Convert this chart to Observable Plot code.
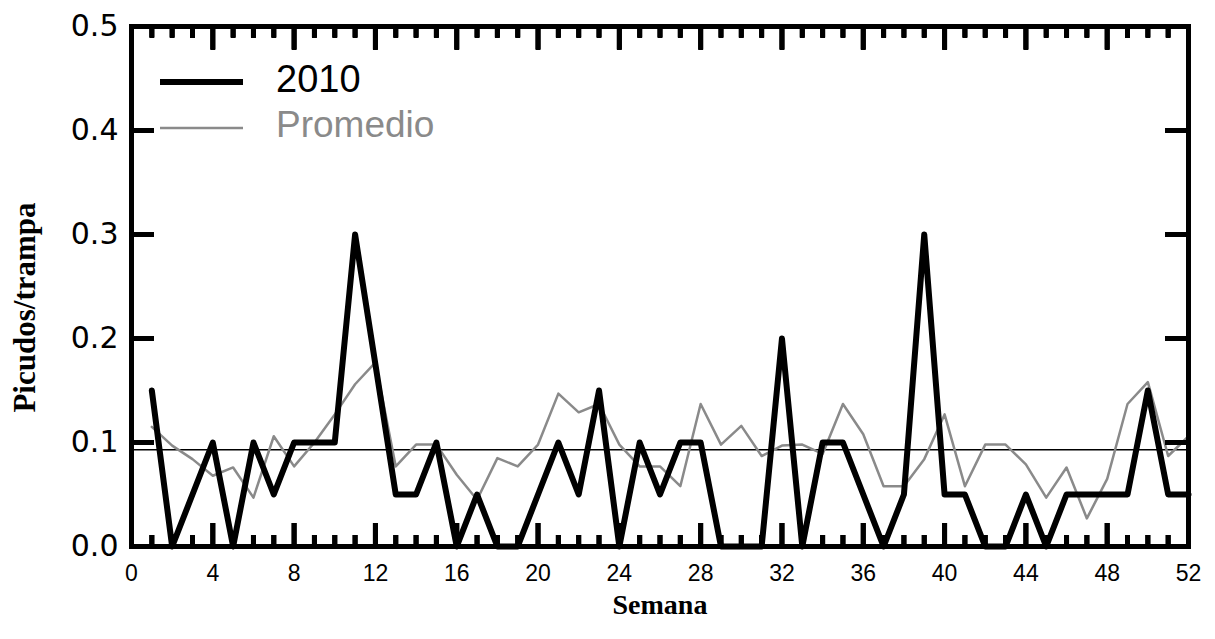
<!DOCTYPE html>
<html><head><meta charset="utf-8">
<script src="https://cdn.jsdelivr.net/npm/d3@7"></script>
<script src="https://cdn.jsdelivr.net/npm/@observablehq/plot@0.6"></script>
<style>
body{margin:0;background:#fff;}
#wrap{position:relative;width:1215px;height:639px;}
#legend{position:absolute;left:0;top:0;pointer-events:none;}
</style></head><body>
<div id="wrap"></div>
<script>
const weeks = [1,2,3,4,5,6,7,8,9,10,11,12,13,14,15,16,17,18,19,20,21,22,23,24,25,26,
  27,28,29,30,31,32,33,34,35,36,37,38,39,40,41,42,43,44,45,46,47,48,49,50,51,52];
const serie2010 = [0.15,0,0.05,0.1,0,0.1,0.05,0.1,0.1,0.1,0.3,0.175,0.05,0.05,0.1,0,0.05,0,0,0.05,
  0.1,0.05,0.15,0,0.1,0.05,0.1,0.1,0,0,0,0.2,0,0.1,0.1,0.05,0,0.05,0.3,0.05,
  0.05,0,0,0.05,0,0.05,0.05,0.05,0.05,0.15,0.05,0.05];
const promedio = [0.115,0.097,0.084,0.068,0.076,0.047,0.106,0.077,0.1,0.127,0.156,0.177,0.077,0.098,0.098,0.069,0.045,0.085,0.077,0.098,
  0.147,0.129,0.137,0.098,0.077,0.077,0.058,0.137,0.098,0.116,0.087,0.097,0.098,0.089,0.137,0.108,0.058,0.058,0.084,0.127,
  0.058,0.098,0.098,0.079,0.047,0.076,0.027,0.065,0.137,0.158,0.087,0.106];
const referencia = 0.093;
const xTicks = [0,4,8,12,16,20,24,28,32,36,40,44,48,52];
const yTicks = [0,0.1,0.2,0.3,0.4,0.5];
const innerYTicks = [0.1,0.2,0.3,0.4];
const majorWeeks = [4,8,12,16,20,24,28,32,36,40,44,48];
const minorWeeks = weeks.filter(w => w < 52 && !majorWeeks.includes(w));
const legendLabels = ["2010","Promedio"];
const legendColors = ["#000000","#8a8a8a"];

const W = 1215, H = 639, mt = 26, mb = 93, ml = 131, mr = 27;
const plotH = H - mt - mb, plotW = W - ml - mr;
const xDom = [0, 52], yDom = [0, 0.5];
// tick lengths in pixels converted to data units
const pxY = px => px * (yDom[1] - yDom[0]) / plotH;
const pxX = px => px * (xDom[1] - xDom[0]) / plotW;

const d2010 = weeks.map((w,i) => ({w, v: serie2010[i]}));
const dProm = weeks.map((w,i) => ({w, v: promedio[i]}));

const sans = "'Liberation Sans', Arial, sans-serif";
const serif = "'Liberation Serif', 'Times New Roman', serif";
const tk = {stroke: "black", strokeWidth: 5, strokeLinecap: "butt"};

// inward x ticks, drawn as axis tick marks with negative size (no labels)
const xTickAxis = (anchor, ticks, size) =>
  Plot.axisX({anchor, ticks, tickSize: -size, strokeWidth: 5, stroke: "black", fill: "none", label: null});

const chart = Plot.plot({
  width: W, height: H, marginTop: mt, marginBottom: mb, marginLeft: ml, marginRight: mr,
  x: {domain: xDom},
  y: {domain: yDom},
  style: {background: "white", fontFamily: sans, color: "black"},
  marks: [
    Plot.ruleY([referencia], {stroke: "black", strokeWidth: 1.5}),
    Plot.line(dProm, {x: "w", y: "v", stroke: "#8a8a8a", strokeWidth: 2.5}),
    Plot.line(d2010, {x: "w", y: "v", stroke: "black", strokeWidth: 6}),
    Plot.ruleX(minorWeeks.slice(), {x: d => d, y1: yDom[0], y2: yDom[0] + pxY(11), ...tk}),
    Plot.ruleX(majorWeeks.slice(), {x: d => d, y1: yDom[0], y2: yDom[0] + pxY(23), ...tk}),
    Plot.ruleX(minorWeeks.slice(), {x: d => d, y1: yDom[1] - pxY(11), y2: yDom[1], ...tk}),
    Plot.ruleX(majorWeeks.slice(), {x: d => d, y1: yDom[1] - pxY(23), y2: yDom[1], ...tk}),
    xTickAxis("bottom", minorWeeks, 11),
    xTickAxis("bottom", majorWeeks, 23),
    xTickAxis("top", minorWeeks, 11),
    xTickAxis("top", majorWeeks, 23),
    Plot.ruleY(innerYTicks, {y: d => d, x1: xDom[0], x2: xDom[0] + pxX(23), ...tk}),
    Plot.ruleY(innerYTicks, {y: d => d, x1: xDom[1] - pxX(23), x2: xDom[1], ...tk}),
    Plot.frame({stroke: "black", strokeWidth: 5}),
    Plot.axisX({ticks: xTicks, tickSize: 0, tickPadding: 18, fontSize: 23, fontFamily: sans, label: null}),
    Plot.axisY({ticks: yTicks, tickSize: 0, tickPadding: 13, tickFormat: d3.format(".1f"), fontSize: 30, fontFamily: "'DejaVu Sans', sans-serif", label: null}),
    Plot.text(["Semana"], {text: d => d, frameAnchor: "bottom", dy: 59, lineAnchor: "middle", textAnchor: "middle", fontSize: 28, fontWeight: "bold", fontFamily: serif}),
    Plot.text(["Picudos/trampa"], {text: d => d, frameAnchor: "left", rotate: -90, dx: -106, dy: 21, lineAnchor: "middle", textAnchor: "middle", fontSize: 31, fontWeight: "bold", fontFamily: serif})
  ]
});
const wrap = document.getElementById("wrap");
wrap.appendChild(chart);

// legend overlay
const leg = d3.select(wrap).append("svg").attr("id","legend").attr("width", W).attr("height", H);
const legendRows = [{y: 82, base: 92, sw: 6, fs: 38}, {y: 128, base: 137, sw: 2.5, fs: 37}];
legendLabels.forEach((lab, i) => {
  const r = legendRows[i];
  leg.append("line").attr("x1", 160).attr("x2", 243).attr("y1", r.y).attr("y2", r.y)
    .attr("stroke", legendColors[i]).attr("stroke-width", r.sw);
  leg.append("text").attr("x", 276).attr("y", r.base).attr("font-size", r.fs)
    .attr("font-family", sans).attr("fill", legendColors[i]).text(lab);
});
</script>
</body></html>
